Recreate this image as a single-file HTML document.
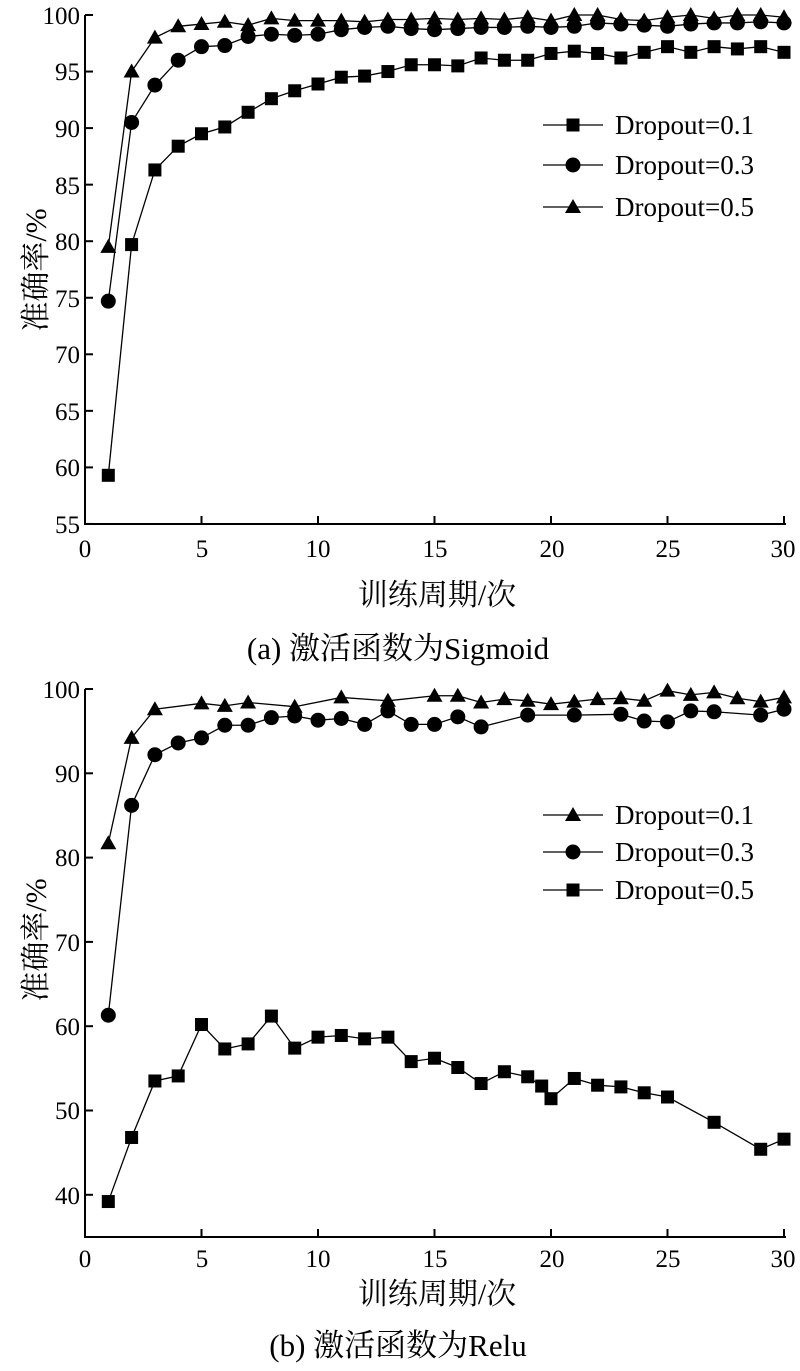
<!DOCTYPE html>
<html><head><meta charset="utf-8"><style>
body{margin:0;background:#fff}
svg text{font-family:"Liberation Serif","Noto Serif CJK SC",serif;fill:#000}
</style></head><body>
<svg id="s" width="800" height="1366" xmlns="http://www.w3.org/2000/svg">
<g font-size="25">
<path d="M85 15 V524 H786" fill="none" stroke="#000" stroke-width="2"/>
<g text-anchor="end">
<text x="80" y="24">100</text><text x="80" y="80">95</text><text x="80" y="137">90</text><text x="80" y="194">85</text><text x="80" y="250">80</text><text x="80" y="307">75</text><text x="80" y="363">70</text><text x="80" y="420">65</text><text x="80" y="476">60</text><text x="80" y="533">55</text>
</g>
<g text-anchor="middle">
<text x="85" y="557">0</text><text x="202" y="557">5</text><text x="318" y="557">10</text><text x="435" y="557">15</text><text x="552" y="557">20</text><text x="668" y="557">25</text><text x="783" y="557">30</text>
<text x="437" y="605" font-size="30">训练周期/次</text>
<text x="398" y="659" font-size="31">(a)  激活函数为Sigmoid</text>
</g>
<text transform="translate(46,270) rotate(-90)" text-anchor="middle" font-size="30">准确率/%</text>
<g font-size="27"><text x="615" y="134">Dropout=0.1</text><text x="615" y="174">Dropout=0.3</text><text x="615" y="216">Dropout=0.5</text></g>
<path d="M85 689 V1237 H786" fill="none" stroke="#000" stroke-width="2"/>
<g text-anchor="end">
<text x="80" y="698">100</text><text x="80" y="782">90</text><text x="80" y="866">80</text><text x="80" y="951">70</text><text x="80" y="1035">60</text><text x="80" y="1119">50</text><text x="80" y="1204">40</text>
</g>
<g text-anchor="middle">
<text x="85" y="1267">0</text><text x="202" y="1267">5</text><text x="318" y="1267">10</text><text x="435" y="1267">15</text><text x="552" y="1267">20</text><text x="668" y="1267">25</text><text x="783" y="1267">30</text>
<text x="437" y="1304" font-size="30">训练周期/次</text>
<text x="398" y="1356" font-size="31">(b)  激活函数为Relu</text>
</g>
<text transform="translate(46,940) rotate(-90)" text-anchor="middle" font-size="30">准确率/%</text>
<g font-size="27"><text x="615" y="824">Dropout=0.1</text><text x="615" y="861">Dropout=0.3</text><text x="615" y="899">Dropout=0.5</text></g>
</g>
</svg>
<script>
var s=document.getElementById('s'),NS="http://www.w3.org/2000/svg";
function el(t,a){var e=document.createElementNS(NS,t);for(var k in a)e.setAttribute(k,a[k]);s.appendChild(e);return e;}
function mk(type,x,y){
 if(type=='s')el('rect',{x:x-6.5,y:y-6.5,width:13,height:13,fill:'#000'});
 else if(type=='c')el('circle',{cx:x,cy:y,r:7.5,fill:'#000'});
 else el('polygon',{points:(x-8)+','+(y+6)+' '+(x+8)+','+(y+6)+' '+x+','+(y-8),fill:'#000'});
}
function series(pts,type,X,Y){
 var d=pts.map(function(p,i){return (i?'L':'M')+X(p[0])+' '+Y(p[1]);}).join('');
 el('path',{d:d,fill:'none',stroke:'#000','stroke-width':1.3});
 pts.forEach(function(p){mk(type,X(p[0]),Y(p[1]));});
}
function idx(a){return a.map(function(v,i){return [i+1,v];});}
var X=function(x){return 85+x*23.3;};
var Y1=function(v){return 15+(100-v)*11.31;};
var Y2=function(v){return 689+(100-v)*8.43;};
for(var i=5;i<=30;i+=5){el('line',{x1:X(i),y1:524,x2:X(i),y2:516,stroke:'#000','stroke-width':2});el('line',{x1:X(i),y1:1237,x2:X(i),y2:1229,stroke:'#000','stroke-width':2});}
for(var v=55;v<=100;v+=5){el('line',{x1:85,y1:Y1(v),x2:93,y2:Y1(v),stroke:'#000','stroke-width':2});}
for(var v=40;v<=100;v+=10){el('line',{x1:85,y1:Y2(v),x2:93,y2:Y2(v),stroke:'#000','stroke-width':2});}
series(idx([59.3,79.7,86.3,88.4,89.5,90.1,91.4,92.6,93.3,93.9,94.5,94.6,95.0,95.6,95.6,95.5,96.2,96.0,96.0,96.6,96.8,96.6,96.2,96.7,97.2,96.7,97.2,97.0,97.2,96.7]),'s',X,Y1);
series(idx([74.7,90.5,93.8,96.0,97.2,97.3,98.1,98.3,98.2,98.3,98.7,98.9,99.0,98.8,98.7,98.8,98.9,98.9,99.0,98.9,99.0,99.3,99.2,99.1,99.0,99.2,99.3,99.3,99.4,99.3]),'c',X,Y1);
series(idx([79.5,95.0,98.0,99.0,99.2,99.4,99.1,99.7,99.5,99.5,99.5,99.4,99.6,99.6,99.7,99.6,99.7,99.6,99.8,99.5,100,100,99.6,99.5,99.8,100,99.7,100,100,99.8]),'t',X,Y1);
[[125,'s'],[165,'c'],[207,'t']].forEach(function(r){el('line',{x1:543,y1:r[0],x2:603,y2:r[0],stroke:'#000','stroke-width':1.3});mk(r[1],573,r[0]);});
series([[1,81.7],[2,94.2],[3,97.6],[5,98.3],[6,98.0],[7,98.4],[9,97.9],[11,99.0],[13,98.6],[15,99.2],[16,99.2],[17,98.4],[18,98.8],[19,98.6],[20,98.2],[21,98.5],[22,98.8],[23,98.9],[24,98.6],[25,99.8],[26,99.3],[27,99.6],[28,98.9],[29,98.5],[30,99.0]],'t',X,Y2);
series([[1,61.3],[2,86.2],[3,92.2],[4,93.6],[5,94.2],[6,95.7],[7,95.7],[8,96.6],[9,96.8],[10,96.3],[11,96.5],[12,95.8],[13,97.4],[14,95.8],[15,95.8],[16,96.7],[17,95.5],[19,96.9],[21,96.9],[23,97.0],[24,96.2],[25,96.1],[26,97.4],[27,97.3],[29,96.9],[30,97.6]],'c',X,Y2);
series([[1,39.2],[2,46.8],[3,53.5],[4,54.1],[5,60.2],[6,57.3],[7,57.9],[8,61.2],[9,57.4],[10,58.7],[11,58.9],[12,58.5],[13,58.7],[14,55.8],[15,56.2],[16,55.1],[17,53.2],[18,54.6],[19,54.0],[19.6,52.9],[20,51.4],[21,53.8],[22,53.0],[23,52.8],[24,52.1],[25,51.6],[27,48.6],[29,45.4],[30,46.6]],'s',X,Y2);
[[815,'t'],[852,'c'],[890,'s']].forEach(function(r){el('line',{x1:543,y1:r[0],x2:603,y2:r[0],stroke:'#000','stroke-width':1.3});mk(r[1],573,r[0]);});
</script>
</body></html>
